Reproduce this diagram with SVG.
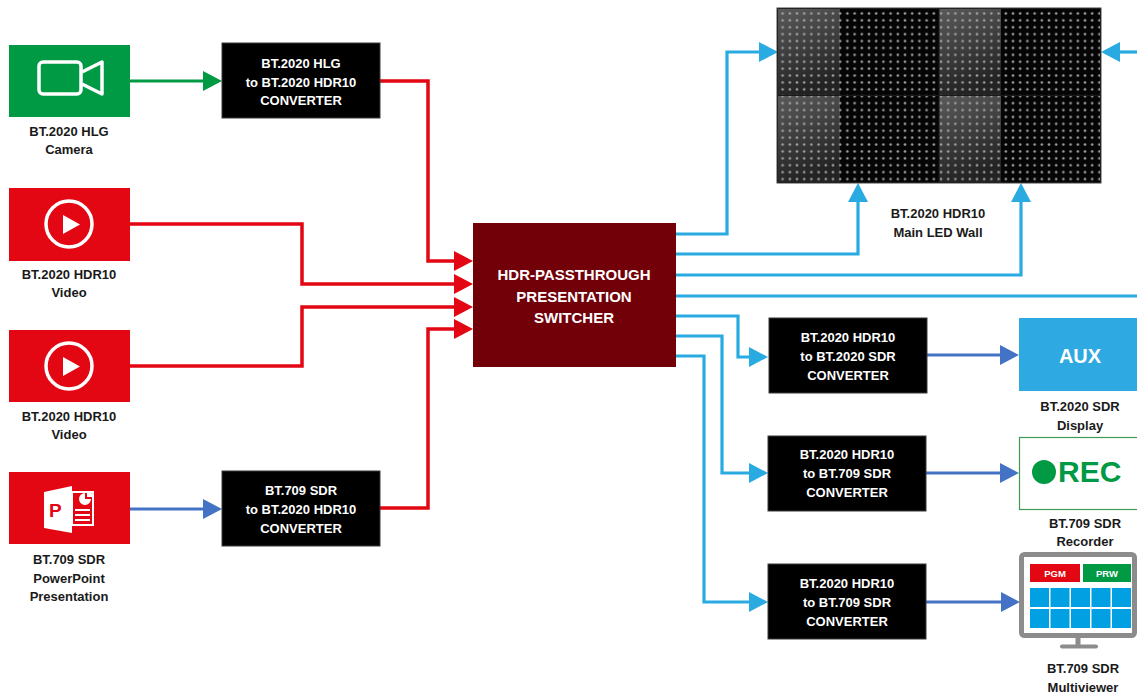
<svg xmlns="http://www.w3.org/2000/svg" width="1137" height="695" viewBox="0 0 1137 695">
<style>
.lbl{font-family:"Liberation Sans",Arial,sans-serif;font-weight:bold;font-size:13px;fill:#1a1a1a;text-anchor:middle}
.cvt{font-family:"Liberation Sans",Arial,sans-serif;font-weight:bold;font-size:13px;fill:#ffffff;text-anchor:middle}
.cvbox{fill:#000000;stroke:#3a3a3a;stroke-width:1}
.red{fill:none;stroke:#E30613;stroke-width:3.5;marker-end:url(#mRed)}
.lb{fill:none;stroke:#29ABE2;stroke-width:3.2;marker-end:url(#mLb)}
.lbn{fill:none;stroke:#29ABE2;stroke-width:3.2}
.db{fill:none;stroke:#4472C4;stroke-width:3.2;marker-end:url(#mDb)}
.gr{fill:none;stroke:#009A44;stroke-width:3.2;marker-end:url(#mGr)}
.icon{fill:none;stroke:#ffffff;stroke-width:3.5}
.cell{fill:#00A0E3}
</style>
<defs>
<marker id="mRed" markerUnits="userSpaceOnUse" markerWidth="20" markerHeight="20" viewBox="0 0 20 20" refX="9" refY="10" orient="auto"><path d="M0,0 L19,10 L0,20 z" fill="#E30613"/></marker>
<marker id="mLb" markerUnits="userSpaceOnUse" markerWidth="20" markerHeight="20" viewBox="0 0 20 20" refX="9" refY="10" orient="auto"><path d="M0,0 L19,10 L0,20 z" fill="#29ABE2"/></marker>
<marker id="mDb" markerUnits="userSpaceOnUse" markerWidth="20" markerHeight="20" viewBox="0 0 20 20" refX="9" refY="10" orient="auto"><path d="M0,0 L19,10 L0,20 z" fill="#4472C4"/></marker>
<marker id="mGr" markerUnits="userSpaceOnUse" markerWidth="20" markerHeight="20" viewBox="0 0 20 20" refX="9" refY="10" orient="auto"><path d="M0,0 L19,10 L0,20 z" fill="#009A44"/></marker>
<pattern id="dots" patternUnits="userSpaceOnUse" x="779" y="10" width="7.2" height="6.9"><circle cx="3.6" cy="3.45" r="1.3" fill="#a0a0a0"/></pattern>
<linearGradient id="glare" x1="0" y1="0" x2="0.3" y2="1"><stop offset="0" stop-color="#ffffff" stop-opacity="0.34"/><stop offset="1" stop-color="#ffffff" stop-opacity="0.12"/></linearGradient>
</defs>

<g id="connectors">
<path class="gr" d="M130,81 H212"/>
<path class="red" d="M380,81 H428 V261 H463"/>
<path class="red" d="M130,224 H302 V284 H463"/>
<path class="red" d="M130,366 H302 V307 H463"/>
<path class="red" d="M380,508 H428 V329 H463"/>
<path class="db" d="M130,509 H212"/>
<path class="lb" d="M676,234 H727 V52 H768"/>
<path class="lb" d="M676,254 H858 V193"/>
<path class="lb" d="M676,275 H1021 V193"/>
<path class="lbn" d="M676,296 H1137"/>
<path class="lb" d="M1137,52 H1111"/>
<path class="lb" d="M676,316 H738 V357 H758"/>
<path class="lb" d="M676,336 H722 V473 H758"/>
<path class="lb" d="M676,356 H704 V602 H758"/>
<path class="db" d="M927,355 H1009"/>
<path class="db" d="M926,473 H1009"/>
<path class="db" d="M926,602 H1010"/>
</g>

<g id="camera">
<rect x="9" y="45" width="121" height="72" fill="#009A44"/>
<rect class="icon" x="39" y="62" width="42" height="32" rx="4" stroke-width="3"/>
<path class="icon" d="M82,72 L102,62 L102,94 L82,84" stroke-width="3" stroke-linejoin="round"/>
<text class="lbl" x="69" y="136">BT.2020 HLG</text>
<text class="lbl" x="69" y="154">Camera</text>
</g>

<g id="conv-hlg">
<rect class="cvbox" x="222" y="43" width="158" height="75"/>
<text class="cvt" x="301" y="68">BT.2020 HLG</text>
<text class="cvt" x="301" y="87">to BT.2020 HDR10</text>
<text class="cvt" x="301" y="105">CONVERTER</text>
</g>

<g id="video1">
<rect x="9" y="188" width="121" height="73" fill="#E30613"/>
<circle class="icon" cx="69" cy="224" r="23" stroke-width="4"/>
<path d="M63,215 L80,224.5 L63,234 z" fill="#ffffff"/>
<text class="lbl" x="69" y="279">BT.2020 HDR10</text>
<text class="lbl" x="69" y="297">Video</text>
</g>

<g id="video2">
<rect x="9" y="330" width="121" height="72" fill="#E30613"/>
<circle class="icon" cx="69" cy="366" r="23" stroke-width="4"/>
<path d="M63,357 L80,366.5 L63,376 z" fill="#ffffff"/>
<text class="lbl" x="69" y="421">BT.2020 HDR10</text>
<text class="lbl" x="69" y="439">Video</text>
</g>

<g id="powerpoint">
<rect x="9" y="472" width="121" height="72" fill="#E30613"/>
<rect x="72" y="492" width="21" height="33" fill="none" stroke="#ffffff" stroke-width="2"/>
<path d="M85,493 A6,6 0 1 0 91,499 L85,499 z" fill="#ffffff"/>
<path d="M87,491 A6,6 0 0 1 93,497 L87,497 z" fill="#ffffff"/>
<path d="M75,510 H90 M75,515 H90 M75,520 H90" stroke="#ffffff" stroke-width="1.8"/>
<path d="M44,492 L72,486 L72,533 L44,528 z" fill="#ffffff"/>
<text x="49" y="517" font-family="Liberation Sans,Arial,sans-serif" font-weight="bold" font-size="19" fill="#E30613">P</text>
<text class="lbl" x="69" y="564">BT.709 SDR</text>
<text class="lbl" x="69" y="583">PowerPoint</text>
<text class="lbl" x="69" y="601">Presentation</text>
</g>

<g id="conv-sdr">
<rect class="cvbox" x="222" y="471" width="158" height="75"/>
<text class="cvt" x="301" y="495">BT.709 SDR</text>
<text class="cvt" x="301" y="514">to BT.2020 HDR10</text>
<text class="cvt" x="301" y="533">CONVERTER</text>
</g>

<g id="switcher">
<rect x="473" y="223" width="203" height="144" fill="#720008"/>
<text class="cvt" x="574" y="280" style="font-size:15px">HDR-PASSTHROUGH</text>
<text class="cvt" x="574" y="302" style="font-size:15px">PRESENTATION</text>
<text class="cvt" x="574" y="323" style="font-size:15px">SWITCHER</text>
</g>

<g id="led-wall">
<rect x="777" y="8" width="324" height="175" fill="#050505" stroke="#444" stroke-width="1"/>
<rect x="778" y="9" width="62" height="86" fill="url(#glare)"/>
<rect x="939" y="9" width="62" height="86" fill="url(#glare)"/>
<rect x="778" y="96" width="62" height="86" fill="url(#glare)"/>
<rect x="939" y="96" width="62" height="86" fill="url(#glare)"/>
<rect x="778" y="9" width="322" height="173" fill="url(#dots)"/>
<path d="M939,9 V182 M778,95.5 H1100" stroke="#1a1a1a" stroke-width="1"/>
<text class="lbl" x="938" y="218">BT.2020 HDR10</text>
<text class="lbl" x="938" y="237">Main LED Wall</text>
</g>

<g id="conv-a">
<rect class="cvbox" x="769" y="318" width="158" height="75"/>
<text class="cvt" x="848" y="342">BT.2020 HDR10</text>
<text class="cvt" x="848" y="361">to BT.2020 SDR</text>
<text class="cvt" x="848" y="380">CONVERTER</text>
</g>

<g id="conv-b">
<rect class="cvbox" x="768" y="436" width="158" height="75"/>
<text class="cvt" x="847" y="459">BT.2020 HDR10</text>
<text class="cvt" x="847" y="478">to BT.709 SDR</text>
<text class="cvt" x="847" y="497">CONVERTER</text>
</g>

<g id="conv-c">
<rect class="cvbox" x="768" y="564" width="158" height="75"/>
<text class="cvt" x="847" y="588">BT.2020 HDR10</text>
<text class="cvt" x="847" y="607">to BT.709 SDR</text>
<text class="cvt" x="847" y="626">CONVERTER</text>
</g>

<g id="aux-display">
<rect x="1019" y="318" width="120" height="73" fill="#2EA9E1"/>
<text x="1080" y="363" font-family="Liberation Sans,Arial,sans-serif" font-weight="bold" font-size="20" fill="#ffffff" text-anchor="middle">AUX</text>
<text class="lbl" x="1080" y="411">BT.2020 SDR</text>
<text class="lbl" x="1080" y="430">Display</text>
</g>

<g id="recorder">
<rect x="1019.5" y="437.5" width="120" height="72" fill="#ffffff" stroke="#3E9A50" stroke-width="1.2"/>
<circle cx="1044" cy="472" r="12" fill="#009A44"/>
<text x="1058" y="482" font-family="Liberation Sans,Arial,sans-serif" font-weight="bold" font-size="30" fill="#009A44">REC</text>
<text class="lbl" x="1085" y="528">BT.709 SDR</text>
<text class="lbl" x="1085" y="546">Recorder</text>
</g>

<g id="multiviewer">
<rect x="1075.5" y="636" width="5" height="10" fill="#8c8c8c"/>
<rect x="1060" y="644.5" width="38" height="4" rx="2" fill="#8c8c8c"/>
<rect x="1021.5" y="554.5" width="113" height="81" rx="3" fill="#ffffff" stroke="#8c8c8c" stroke-width="5"/>
<rect x="1030" y="564" width="50" height="18" fill="#E30613"/>
<rect x="1083" y="564" width="48" height="18" fill="#009A44"/>
<text x="1055" y="577" font-family="Liberation Sans,Arial,sans-serif" font-weight="bold" font-size="9.5" fill="#ffffff" text-anchor="middle">PGM</text>
<text x="1107" y="577" font-family="Liberation Sans,Arial,sans-serif" font-weight="bold" font-size="9.5" fill="#ffffff" text-anchor="middle">PRW</text>
<rect class="cell" x="1030" y="588" width="19" height="19"/>
<rect class="cell" x="1050.5" y="588" width="19" height="19"/>
<rect class="cell" x="1071" y="588" width="19" height="19"/>
<rect class="cell" x="1091.5" y="588" width="19" height="19"/>
<rect class="cell" x="1112" y="588" width="19" height="19"/>
<rect class="cell" x="1030" y="609" width="19" height="19"/>
<rect class="cell" x="1050.5" y="609" width="19" height="19"/>
<rect class="cell" x="1071" y="609" width="19" height="19"/>
<rect class="cell" x="1091.5" y="609" width="19" height="19"/>
<rect class="cell" x="1112" y="609" width="19" height="19"/>
<text class="lbl" x="1083" y="673">BT.709 SDR</text>
<text class="lbl" x="1083" y="692">Multiviewer</text>
</g>
</svg>
